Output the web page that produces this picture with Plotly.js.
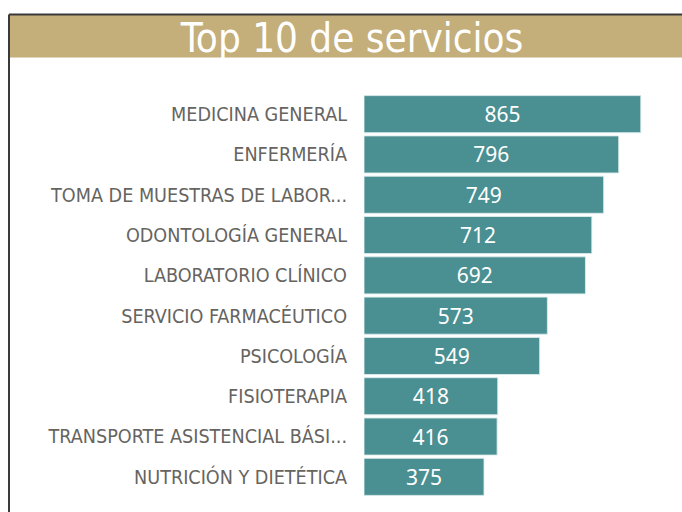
<!DOCTYPE html>
<html><head><meta charset="utf-8">
<script src="https://cdn.plot.ly/plotly-3.0.1.min.js"></script>
<style>html,body{margin:0;padding:0;background:#fff;}#chart{width:682px;height:512px;}</style>
</head><body><div id="chart"></div>
<script>
const categories = ["MEDICINA GENERAL","ENFERMERÍA","TOMA DE MUESTRAS DE LABOR...","ODONTOLOGÍA GENERAL","LABORATORIO CLÍNICO","SERVICIO FARMACÉUTICO","PSICOLOGÍA","FISIOTERAPIA","TRANSPORTE ASISTENCIAL BÁSI...","NUTRICIÓN Y DIETÉTICA"];
const values = [865,796,749,712,692,573,549,418,416,375];
const titleText = "Top 10 de servicios";

const L = 364, R = 30, T = 94.4, B = 15.4, W = 682, H = 512;
const pw = W - L - R, ph = H - T - B;
const px = x => (x - L) / pw;
const py = y => (H - B - y) / ph;

const trace = {
  type: 'bar', orientation: 'h',
  y: categories, x: values,
  text: values.map(String), textposition: 'inside', insidetextanchor: 'middle',
  textfont: {family: 'Noto Sans, sans-serif', size: 21, color: '#ffffff'},
  marker: {color: '#4A8F91', line: {color: 'rgba(220,235,235,0.9)', width: 1}},
  hoverinfo: 'none'
};
const layout = {
  width: W, height: H,
  margin: {l: L, r: R, t: T, b: B, pad: 0},
  paper_bgcolor: '#ffffff', plot_bgcolor: '#ffffff',
  showlegend: false, bargap: 0.08,
  xaxis: {range: [0, 900], visible: false, fixedrange: true},
  yaxis: {autorange: 'reversed', showgrid: false, zeroline: false, showline: false, ticks: '',
    ticklabelstandoff: 16,
    tickfont: {family: 'DejaVu Sans Condensed, sans-serif', size: 19.6, color: '#66645F'}},
  title: {text: titleText, x: 352/W, xref: 'container', xanchor: 'center',
    y: 1 - 38/H, yref: 'container', yanchor: 'middle',
    font: {family: 'DejaVu Sans Condensed, DejaVu Sans, sans-serif', size: 40, color: '#ffffff'}},
  shapes: [
    {type: 'rect', xref: 'paper', yref: 'paper', x0: px(9), x1: px(690), y0: py(58), y1: py(15),
     fillcolor: '#C4AE7A', line: {width: 0}, layer: 'below'},
    {type: 'line', xref: 'paper', yref: 'paper', x0: px(9), x1: px(690), y0: py(15), y1: py(15),
     line: {color: '#3a3a3a', width: 2}},
    {type: 'line', xref: 'paper', yref: 'paper', x0: px(9), x1: px(9), y0: py(15), y1: py(520),
     line: {color: '#3a3a3a', width: 2}}
  ]
};
Plotly.newPlot('chart', [trace], layout, {displayModeBar: false, staticPlot: true});
</script></body></html>
